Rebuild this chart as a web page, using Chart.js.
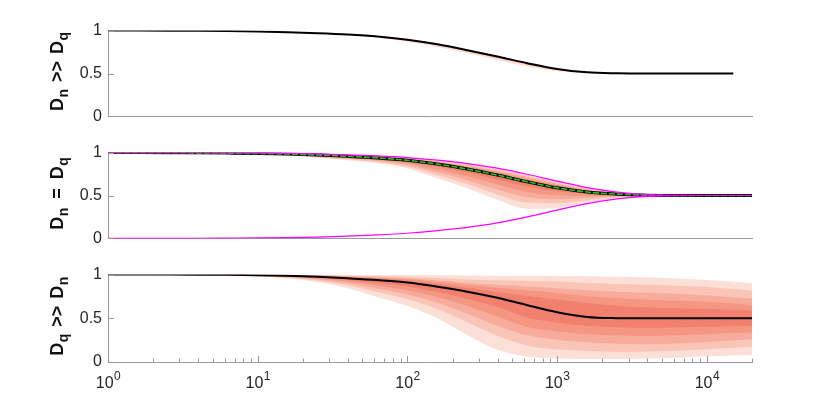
<!DOCTYPE html>
<html>
<head>
<meta charset="utf-8">
<script src="https://cdn.jsdelivr.net/npm/chart.js@4.4.1/dist/chart.umd.min.js"></script>
<style>
  body { margin: 0; background: #fff; width: 830px; height: 405px; position: relative; overflow: hidden; }
  .panel { position: absolute; left: 0; width: 830px; }
</style>
</head>
<body>
<div class="panel" style="top:15px;height:117px"><canvas id="c1"></canvas></div>
<div class="panel" style="top:137px;height:117px"><canvas id="c2"></canvas></div>
<div class="panel" style="top:259px;height:146px"><canvas id="c3"></canvas></div>
<script>
// x samples (every ~0.2 decade)
const xs = [1, 1.585, 2.512, 3.981, 6.31, 10, 15.85, 25.12, 39.81, 63.1, 100, 158.5, 251.2, 398.1, 631, 1000, 1585, 2512, 3981, 6310, 10000, 15000, 20000];
const yTickLabels = ['0', '0.5', '1'];
const xTickExps = [0, 1, 2, 3, 4];

// panel 1: Dn >> Dq
const topMean = [1.000, 1.000, 0.999, 0.997, 0.994, 0.989, 0.981, 0.970, 0.955, 0.932, 0.893, 0.840, 0.772, 0.698, 0.620, 0.552, 0.514, 0.503, 0.500, 0.500, 0.500, 0.500, null];
const topHi   = [1.000, 1.000, 0.999, 0.997, 0.994, 0.989, 0.981, 0.970, 0.957, 0.936, 0.898, 0.846, 0.778, 0.704, 0.625, 0.556, 0.516, 0.504, 0.500, 0.500, 0.500, 0.500, null];
const topLo1  = [1.000, 1.000, 0.999, 0.997, 0.994, 0.989, 0.980, 0.968, 0.951, 0.925, 0.883, 0.826, 0.756, 0.680, 0.603, 0.540, 0.508, 0.501, 0.500, 0.500, 0.500, 0.500, null];
const topLo2  = [1.000, 1.000, 0.999, 0.997, 0.994, 0.988, 0.979, 0.965, 0.946, 0.916, 0.870, 0.808, 0.735, 0.657, 0.582, 0.527, 0.503, 0.499, 0.500, 0.500, 0.500, 0.500, null];

// panel 2: Dn = Dq
const midHiEnv = [1.000, 1.000, 0.999, 0.998, 0.996, 0.994, 0.990, 0.984, 0.974, 0.961, 0.942, 0.912, 0.872, 0.818, 0.748, 0.668, 0.592, 0.540, 0.510, 0.501, 0.500, 0.500, 0.500];
const midLoEnv = [0.000, 0.000, 0.001, 0.002, 0.004, 0.006, 0.010, 0.016, 0.026, 0.040, 0.060, 0.090, 0.128, 0.180, 0.250, 0.330, 0.405, 0.460, 0.490, 0.499, 0.500, 0.500, 0.500];
const midMean  = [1.000, 1.000, 0.999, 0.997, 0.994, 0.990, 0.983, 0.972, 0.957, 0.938, 0.910, 0.866, 0.808, 0.738, 0.660, 0.590, 0.540, 0.516, 0.504, 0.500, 0.500, 0.500, 0.500];
const midU1 = [1.000, 1.000, 0.999, 0.997, 0.994, 0.991, 0.984, 0.974, 0.960, 0.943, 0.916, 0.875, 0.821, 0.754, 0.678, 0.606, 0.550, 0.521, 0.505, 0.500, 0.500, 0.500, 0.500];
const midU2 = [1.000, 1.000, 0.999, 0.997, 0.995, 0.992, 0.986, 0.977, 0.964, 0.947, 0.923, 0.884, 0.834, 0.770, 0.695, 0.621, 0.561, 0.526, 0.507, 0.501, 0.500, 0.500, 0.500];
const midU3 = [1.000, 1.000, 0.999, 0.998, 0.995, 0.992, 0.987, 0.979, 0.967, 0.952, 0.929, 0.894, 0.846, 0.786, 0.713, 0.637, 0.571, 0.530, 0.508, 0.501, 0.500, 0.500, 0.500];
const midU4 = [1.000, 1.000, 0.999, 0.998, 0.996, 0.993, 0.989, 0.982, 0.971, 0.956, 0.936, 0.903, 0.859, 0.802, 0.730, 0.652, 0.582, 0.535, 0.509, 0.501, 0.500, 0.500, 0.500];
const midU5 = [1.000, 1.000, 0.999, 0.998, 0.996, 0.994, 0.990, 0.983, 0.973, 0.960, 0.940, 0.910, 0.869, 0.814, 0.744, 0.664, 0.589, 0.539, 0.510, 0.501, 0.500, 0.500, 0.500];
const midL1 = [1.000, 1.000, 0.999, 0.997, 0.993, 0.988, 0.979, 0.966, 0.949, 0.927, 0.893, 0.836, 0.768, 0.686, 0.604, 0.549, 0.518, 0.507, 0.502, 0.500, 0.500, 0.500, 0.500];
const midL2 = [1.000, 1.000, 0.999, 0.996, 0.992, 0.985, 0.975, 0.960, 0.939, 0.914, 0.874, 0.803, 0.723, 0.629, 0.542, 0.503, 0.494, 0.498, 0.500, 0.500, 0.500, 0.500, 0.500];
const midL3 = [1.000, 1.000, 0.998, 0.996, 0.991, 0.983, 0.971, 0.953, 0.930, 0.902, 0.855, 0.770, 0.679, 0.571, 0.480, 0.457, 0.470, 0.488, 0.497, 0.499, 0.500, 0.500, 0.500];
const midL4 = [1.000, 1.000, 0.998, 0.995, 0.989, 0.981, 0.967, 0.947, 0.920, 0.890, 0.836, 0.737, 0.634, 0.513, 0.418, 0.411, 0.446, 0.479, 0.495, 0.499, 0.500, 0.500, 0.500];
const midL5 = [1.000, 1.000, 0.998, 0.995, 0.988, 0.978, 0.962, 0.940, 0.910, 0.876, 0.815, 0.700, 0.585, 0.450, 0.345, 0.355, 0.418, 0.466, 0.491, 0.498, 0.500, 0.500, 0.500];

// panel 3: Dq >> Dn
const botMean = [1.000, 1.000, 1.000, 0.999, 0.997, 0.993, 0.986, 0.974, 0.957, 0.937, 0.910, 0.862, 0.805, 0.735, 0.650, 0.570, 0.515, 0.502, 0.500, 0.500, 0.500, 0.500, 0.500];
const botU1 = [1.000, 1.000, 1.000, 0.999, 0.998, 0.995, 0.990, 0.981, 0.968, 0.952, 0.930, 0.892, 0.848, 0.800, 0.755, 0.715, 0.675, 0.645, 0.625, 0.615, 0.607, 0.597, 0.590];
const botU2 = [1.000, 1.000, 1.000, 0.999, 0.998, 0.996, 0.992, 0.985, 0.975, 0.962, 0.946, 0.915, 0.880, 0.850, 0.820, 0.790, 0.755, 0.730, 0.712, 0.700, 0.688, 0.668, 0.652];
const botU3 = [1.000, 1.000, 1.000, 0.999, 0.999, 0.997, 0.994, 0.989, 0.981, 0.971, 0.958, 0.935, 0.905, 0.885, 0.865, 0.845, 0.820, 0.805, 0.793, 0.782, 0.765, 0.742, 0.725];
const botU4 = [1.000, 1.000, 1.000, 1.000, 0.999, 0.998, 0.996, 0.993, 0.988, 0.981, 0.972, 0.960, 0.945, 0.935, 0.928, 0.920, 0.905, 0.892, 0.883, 0.873, 0.858, 0.835, 0.815];
const botU5 = [1.000, 1.000, 1.000, 1.000, 1.000, 0.999, 0.999, 0.998, 0.998, 0.996, 0.994, 0.992, 0.990, 0.988, 0.986, 0.984, 0.981, 0.975, 0.966, 0.954, 0.937, 0.917, 0.900];
const botL1 = [1.000, 1.000, 1.000, 0.998, 0.996, 0.990, 0.981, 0.964, 0.938, 0.904, 0.864, 0.800, 0.721, 0.632, 0.510, 0.450, 0.415, 0.398, 0.392, 0.395, 0.402, 0.410, 0.415];
const botL2 = [1.000, 1.000, 1.000, 0.998, 0.995, 0.988, 0.976, 0.955, 0.920, 0.874, 0.821, 0.743, 0.642, 0.520, 0.400, 0.350, 0.318, 0.302, 0.298, 0.305, 0.318, 0.332, 0.340];
const botL3 = [1.000, 1.000, 1.000, 0.997, 0.993, 0.985, 0.970, 0.944, 0.900, 0.839, 0.772, 0.677, 0.553, 0.415, 0.305, 0.255, 0.225, 0.208, 0.203, 0.212, 0.228, 0.248, 0.260];
const botL4 = [1.000, 1.000, 0.999, 0.997, 0.992, 0.982, 0.964, 0.932, 0.877, 0.801, 0.718, 0.605, 0.454, 0.300, 0.190, 0.145, 0.125, 0.118, 0.120, 0.130, 0.145, 0.163, 0.175];
const botL5 = [1.000, 1.000, 0.999, 0.996, 0.990, 0.978, 0.955, 0.915, 0.845, 0.745, 0.640, 0.500, 0.310, 0.140, 0.060, 0.040, 0.035, 0.035, 0.040, 0.050, 0.062, 0.074, 0.080];

// colours, inner band -> outer band
const shades = ['rgb(242,128,110)', 'rgb(245,150,131)', 'rgb(247,172,155)', 'rgb(250,196,182)', 'rgb(252,223,214)'];
const axisColor = '#9a9a9a';
const textColor = '#262626';
const fontFam = '"Liberation Sans", Arial, Helvetica, sans-serif';

function line(data, color, width, dash) {
  return { data: data, borderColor: color, borderWidth: width, borderDash: dash || [], fill: false, pointRadius: 0 };
}

// a pair of datasets: upper edge filled down to the lower edge
function band(hi, lo, color) {
  return [
    { data: hi, borderColor: 'rgba(0,0,0,0)', backgroundColor: color, fill: '+1', pointRadius: 0 },
    { data: lo, borderColor: 'rgba(0,0,0,0)', fill: false, pointRadius: 0 }
  ];
}

// rotated label with subscripts; parts = [text, isSub, gapAfter]
const yTitle = {
  id: 'yTitle',
  afterDraw(chart, args, o) {
    const ctx = chart.ctx, a = chart.chartArea;
    const big = 'bold ' + o.size + 'px ' + fontFam;
    const small = 'bold ' + o.subSize + 'px ' + fontFam;
    let total = 0;
    const pieces = o.parts.map(p => {
      ctx.font = p[1] ? small : big;
      const w = ctx.measureText(p[0]).width;
      total += w + (p[2] || 0);
      return { t: p[0], sub: p[1], w: w, gap: p[2] || 0 };
    });
    ctx.save();
    ctx.translate(o.x, (a.top + a.bottom) / 2 - 2);
    ctx.rotate(-Math.PI / 2);
    ctx.fillStyle = '#111';
    let pos = -total / 2;
    pieces.forEach(p => {
      ctx.font = p.sub ? small : big;
      ctx.fillText(p.t, pos, p.sub ? o.subDrop : 0);
      pos += p.w + p.gap;
    });
    ctx.restore();
  }
};

// inner tick marks and 10^n labels
const axesMarks = {
  id: 'axesMarks',
  afterDraw(chart, args, o) {
    const ctx = chart.ctx, a = chart.chartArea;
    const xS = chart.scales.x, yS = chart.scales.y;
    ctx.save();
    ctx.strokeStyle = axisColor;
    ctx.lineWidth = 1;
    ctx.beginPath();
    [0, 0.5, 1].forEach(v => {
      const y = Math.round(yS.getPixelForValue(v)) + 0.5;
      ctx.moveTo(a.left, y);
      ctx.lineTo(a.left + 6, y);
    });
    if (o.xTicks) {
      for (let e = 0; e <= 4; e++) {
        for (let k = 1; k <= 9; k++) {
          const v = k * Math.pow(10, e);
          if (v > 20000) break;
          const x = Math.round(xS.getPixelForValue(v)) + 0.5;
          ctx.moveTo(x, a.bottom);
          ctx.lineTo(x, a.bottom - (k === 1 ? 6 : 3.5));
        }
      }
    }
    ctx.stroke();
    if (o.xTicks) {
      ctx.fillStyle = textColor;
      const base = a.bottom + 26;
      xTickExps.forEach(e => {
        const px = xS.getPixelForValue(Math.pow(10, e));
        ctx.font = '16px ' + fontFam;
        const w1 = ctx.measureText('10').width;
        ctx.font = '12px ' + fontFam;
        const w2 = ctx.measureText(String(e)).width;
        const left = px - (w1 + w2) / 2;
        ctx.font = '16px ' + fontFam;
        ctx.fillText('10', left, base);
        ctx.font = '12px ' + fontFam;
        ctx.fillText(String(e), left + w1 + 0.5, base - 8);
      });
    }
    ctx.restore();
  }
};

function makeChart(id, datasets, title, bottom) {
  return new Chart(document.getElementById(id), {
    type: 'line',
    data: { labels: xs, datasets: datasets },
    options: {
      responsive: true,
      maintainAspectRatio: false,
      animation: false,
      events: [],
      layout: { padding: { top: 0, bottom: 0, left: 0, right: 78 } },
      elements: { line: { cubicInterpolationMode: 'monotone' }, point: { radius: 0 } },
      scales: {
        x: {
          type: 'logarithmic', min: 1, max: 20000,
          grid: { display: false, drawTicks: false },
          border: { display: true, color: axisColor, width: 1 },
          ticks: { display: false },
          afterFit: s => { s.height = bottom ? 43 : 0; }
        },
        y: {
          min: 0, max: 1,
          grid: { display: false, drawTicks: false },
          border: { display: true, color: axisColor, width: 1 },
          ticks: {
            stepSize: 0.5, padding: 6, color: textColor,
            font: { family: fontFam, size: 16 },
            callback: (v, i) => yTickLabels[i]
          },
          afterFit: s => { s.width = 108; }
        }
      },
      plugins: {
        legend: { display: false },
        tooltip: { enabled: false },
        yTitle: { parts: title, x: 63, size: 18, subSize: 14, subDrop: 5 },
        axesMarks: { xTicks: bottom }
      }
    },
    plugins: [yTitle, axesMarks]
  });
}

makeChart('c1', [
  line(topMean, '#000', 2),
  ...band(topHi, topLo1, shades[2]),
  ...band(topHi, topLo2, shades[4])
], [['D', 0, 0.5], ['n', 1, 7], ['>>', 0, 7], ['D', 0, 0.5], ['q', 1, 0]], false);

makeChart('c2', [
  line(midHiEnv, '#ff00ff', 1.2),
  line(midLoEnv, '#ff00ff', 1.2),
  line(midMean, '#1ec81e', 1.6, [6, 2]),
  line(midMean, '#000', 3),
  ...band(midU1, midL1, shades[0]),
  ...band(midU2, midL2, shades[1]),
  ...band(midU3, midL3, shades[2]),
  ...band(midU4, midL4, shades[3]),
  ...band(midU5, midL5, shades[4])
], [['D', 0, 0.5], ['n', 1, 9], ['=', 0, 9], ['D', 0, 0.5], ['q', 1, 0]], false);

makeChart('c3', [
  line(botMean, '#000', 2),
  ...band(botU1, botL1, shades[0]),
  ...band(botU2, botL2, shades[1]),
  ...band(botU3, botL3, shades[2]),
  ...band(botU4, botL4, shades[3]),
  ...band(botU5, botL5, shades[4])
], [['D', 0, 0.5], ['q', 1, 7], ['>>', 0, 7], ['D', 0, 0.5], ['n', 1, 0]], true);
</script>
</body>
</html>
